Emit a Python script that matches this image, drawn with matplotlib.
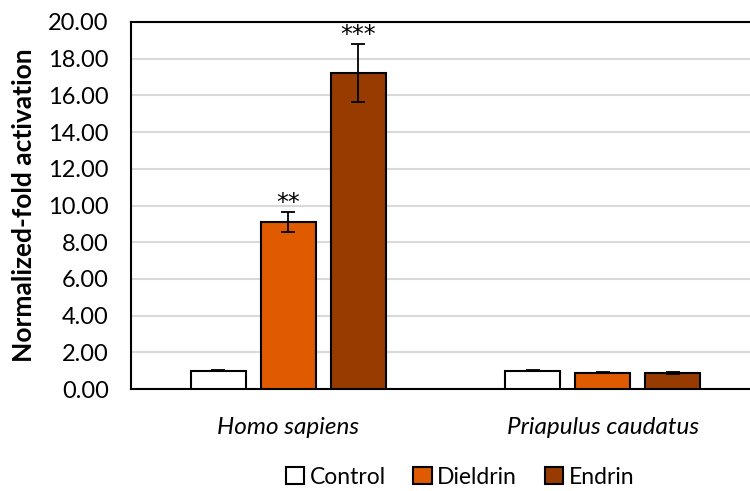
import numpy as np
import matplotlib
matplotlib.use("Agg")
from matplotlib import pyplot as plt

plt.rcParams['font.family'] = ['Lato', 'DejaVu Sans']

species = ['Homo sapiens', 'Priapulus caudatus']
treatments = ['Control', 'Dieldrin', 'Endrin']
control = [1.00, 1.00]
dieldrin = [9.08, 0.88]
endrin = [17.20, 0.88]
control_err = [0.04, 0.02]
dieldrin_err = [0.55, 0.03]
endrin_err = [1.58, 0.06]
stars = [['', '**', '***'], ['', '', '']]

colors = ['#ffffff', '#e05a00', '#973b00']

fig = plt.figure(figsize=(7.5, 4.91), dpi=100)
ax = fig.add_axes([131/750, 1-389/491, 629/750, 367/491])

x = np.arange(len(species))
w = 0.175
step = 0.223
series = [control, dieldrin, endrin]
errs = [control_err, dieldrin_err, endrin_err]
for i, (vals, e, c) in enumerate(zip(series, errs, colors)):
    xs = x + (i - 1) * step
    ax.bar(xs, vals, w, color=c, edgecolor='black', linewidth=1.5, zorder=3)
    ax.errorbar(xs, vals, yerr=e, fmt='none', ecolor='black', elinewidth=1.3,
                capsize=5, capthick=1.3, zorder=4)
    for j in range(len(species)):
        if stars[j][i]:
            ax.text(xs[j], vals[j] + e[j] - 0.15, stars[j][i], ha='center',
                    va='bottom', fontsize=17, family=['DejaVu Sans'])

ax.set_xlim(-0.5, 1.5)
ax.set_ylim(0, 20)
ax.set_yticks(np.arange(0, 21, 2))
ax.set_yticklabels(['%.2f' % v for v in np.arange(0, 21, 2)], fontsize=17)
ax.set_xticks(x)
ax.set_xticklabels(species, fontsize=17.5, style='italic')
ax.tick_params(length=0)
ax.tick_params(axis='y', pad=16)
ax.tick_params(axis='x', pad=20)
ax.yaxis.grid(True, color='#d9d9d9', linewidth=1.5, zorder=0)
ax.set_axisbelow(True)
for s in ax.spines.values():
    s.set_linewidth(1.5)
ax.set_ylabel('Normalized-fold activation', fontsize=19, fontweight='bold')
ax.yaxis.set_label_coords(-95/629, 0.5)

handles = [plt.Rectangle((0, 0), 1, 1, facecolor=c, edgecolor='black', linewidth=1.5)
           for c in colors]
fig.legend(handles, treatments, loc='center', bbox_to_anchor=(460/750, 1-477/491),
           ncol=3, frameon=False, fontsize=16.5, handlelength=0.8, handleheight=0.8,
           handletextpad=0.25, columnspacing=1.2)

fig.savefig('out.png', dpi=100)
